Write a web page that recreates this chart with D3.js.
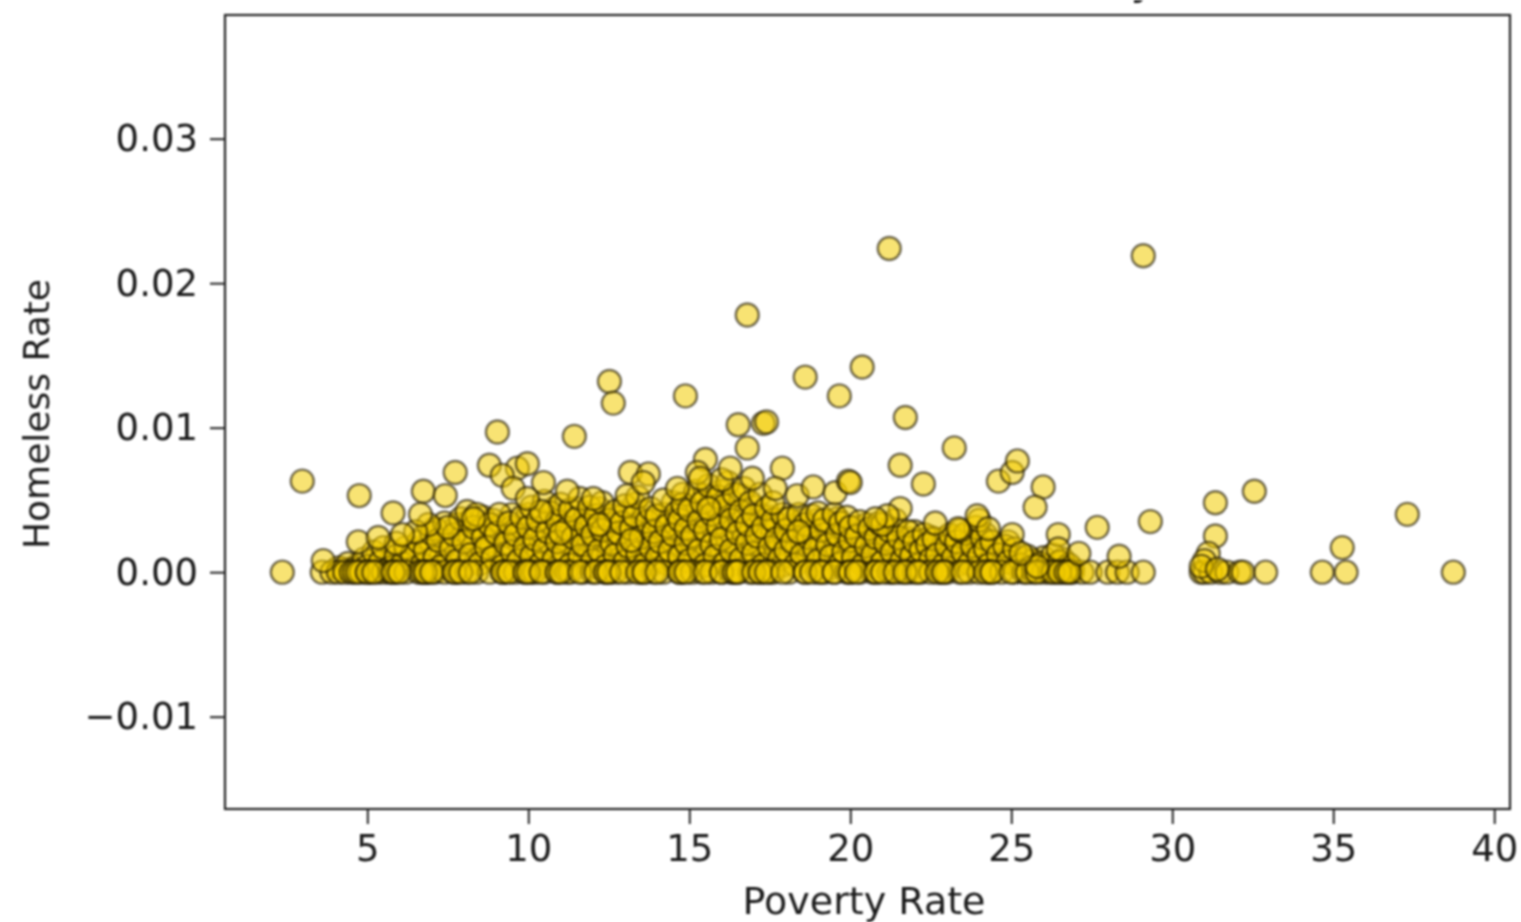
<!DOCTYPE html>
<html>
<head>
<meta charset="utf-8">
<script src="https://d3js.org/d3.v7.min.js"></script>
<style>
	html, body { margin: 0; padding: 0; background: #fff; overflow: hidden; }
	svg { display: block; filter: blur(1.1px); }
	text { font-family: "DejaVu Sans"; fill: #1a1a1a; }
</style>
</head>
<body>
<svg id="chart" width="1521" height="922"></svg>
<script>
// Tick labels
var xTicks = [5, 10, 15, 20, 25, 30, 35, 40];
var yTicks = [-0.01, 0, 0.01, 0.02, 0.03];

// Counties with no homeless reported, poverty rate only
var zeroRow = [2.36, 3.6, 3.9, 4.1, 4.3, 4.5, 4.6, 4.8, 5.0, 5.1, 5.3, 5.5, 5.7, 5.8, 5.9, 6.2, 6.6, 6.8, 6.8, 6.9, 7.1, 7.4, 7.7, 7.8, 8.1, 8.4,
	8.8, 9.2, 9.3, 9.6, 9.9, 10.1, 10.2, 10.5, 10.9, 11.2, 11.3, 11.7, 12.0, 12.4, 12.5, 12.7, 13.1, 13.5, 13.6, 13.9, 14.2, 14.7, 14.8, 15.1,
	15.4, 15.7, 16.0, 16.3, 16.4, 16.5, 16.9, 17.2, 17.3, 17.5, 17.6, 18.1, 18.6, 19.0, 19.2, 19.5, 19.9, 20.0, 20.3, 20.7, 20.8, 21.2, 21.3,
	21.6, 21.8, 22.0, 22.2, 22.5, 22.8, 22.9, 23.0, 23.4, 23.7, 24.0, 24.3, 24.4, 24.7, 25.1, 25.4, 25.7, 26.0, 26.2, 26.4, 26.6, 26.8, 26.9,
	27.2, 27.45, 28.0, 28.3, 28.6, 29.1, 30.9, 31.0, 31.2, 31.5, 31.7, 32.1, 32.2, 32.9, 34.66, 35.4, 38.73];

var zeroRowRepeats = [4.7, 5.0, 5.2, 5.8, 6.0, 6.7, 6.8, 7.0, 7.7, 7.9, 8.2, 9.2, 9.4, 9.9, 10.0, 10.4, 10.9, 11.0, 11.6, 12.1, 12.4, 12.5, 12.9,
	13.4, 13.6, 14.0, 14.7, 14.9, 15.5, 16.0, 16.4, 16.5, 17.0, 17.2, 17.4, 17.9, 18.6, 18.8, 19.1, 19.5, 20.0, 20.2, 20.8, 21.0, 21.4, 21.7,
	22.1, 22.7, 22.9, 23.5, 24.2, 24.4, 25.0, 25.5, 25.8, 26.3, 26.5, 26.7, 26.8];

// Outliers and edge of the cloud, [poverty, homeless]
var upperPoints = [[2.98,.0063],[4.75,.0053],[5.8,.0041],[6.74,.0056],[7.42,.0053],[7.73,.0069],[6.65,.0040],[6.09,.0026],[4.72,.0021],[5.34,.0024],
	[3.63,.0008],[9.04,.0097],[11.43,.0094],[8.79,.0074],[9.66,.0072],[9.97,.0075],[9.19,.0067],[10.47,.0062],[9.53,.0058],[9.97,.0051],[11.21,.0056],
	[12.02,.0051],[13.07,.0053],[13.17,.0069],[13.73,.0068],[13.57,.0062],[12.52,.0132],[12.64,.0117],[14.88,.0122],[16.52,.0102],[17.3,.0103],[17.4,.0104],
	[16.8,.0178],[16.8,.0086],[15.5,.0078],[16.27,.0072],[15.25,.0069],[15.34,.0065],[14.63,.0058],[16.96,.0065],[17.89,.0072],[17.67,.0058],[18.35,.0053],
	[18.85,.0059],[19.53,.0055],[19.94,.0063],[20.0,.0062],[18.6,.0135],[19.66,.0122],[20.37,.0142],[21.21,.0224],[21.71,.0107],[23.23,.0086],[21.55,.0074],
	[22.27,.0061],[24.6,.0063],[25.03,.0069],[25.19,.0077],[25.99,.0059],[25.74,.0045],[29.1,.0219],[27.67,.0031],[29.32,.0035],[31.34,.0048],[32.55,.0056],
	[31.34,.0025],[37.3,.004],[35.28,.0017],[21.55,.0044],[21.15,.0039],[20.78,.0037],[22.64,.0034],[23.94,.0039],[23.35,.003],[24.29,.003],[25.03,.0026],
	[26.46,.0026],[26.46,.0016],[25.8,.0004],[31.12,.0013],[31.0,.0008],[30.9,.0004],[31.4,.0002],[28.35,.0011],[27.1,.0013],[25.3,.0013]];

// Dense part of the cloud, read by band of poverty rate
var cloudLow = [[4.1,.0003],[4.4,.0006],[4.6,.0002],[4.9,.0009],[5.0,.0004],[5.2,.0014],[5.4,.0007],[5.5,.0017],[5.7,.0003],[5.9,.0011],[6.1,.0006],[6.2,.0017],
	[6.4,.0012],[6.6,.0021],[6.7,.0005],[6.8,.0015],[7.0,.0027],[7.1,.0010],[7.2,.0022],[7.3,.0004],[7.4,.0034],[7.6,.0016],[7.7,.0026],[7.8,.0008],[7.9,.0037],
	[8.0,.0021],[8.1,.0042],[8.2,.0012],[8.3,.0031],[8.4,.0040],[8.5,.0006],[8.6,.0024],[8.7,.0017],[8.8,.0033],[8.9,.0010],[9.0,.0027],[9.1,.0040],[9.2,.0004],
	[9.3,.0020],[9.4,.0034],[9.5,.0014],[9.6,.0026],[9.7,.0008],[9.8,.0038],[9.9,.0017],[7.5,.0031],[6.9,.0033],[8.3,.0037],[5.9,.0020],[6.5,.0028]];

var cloudMidA = [[10.0,.0031],[10.1,.0011],[10.1,.0045],[10.2,.0023],[10.3,.0036],[10.4,.0006],[10.5,.0049],[10.5,.0016],[10.6,.0028],[10.7,.0041],[10.8,.0009],
	[10.9,.0035],[10.9,.0021],[11.0,.0047],[11.1,.0014],[11.2,.0030],[11.3,.0043],[11.3,.0005],[11.4,.0024],[11.5,.0037],[11.6,.0011],[11.6,.0051],[11.7,.0019],
	[11.8,.0032],[11.9,.0045],[12.0,.0008],[12.0,.0026],[12.1,.0039],[12.2,.0015],[12.3,.0048],[12.3,.0029],[12.4,.0004],[12.5,.0036],[12.6,.0020],[12.7,.0042],
	[12.7,.0012],[12.8,.0027],[12.9,.0034],[13.0,.0007],[13.0,.0046],[13.1,.0018],[13.2,.0030],[13.3,.0039],[13.4,.0013],[13.4,.0052],[13.5,.0024],[13.6,.0005],
	[13.7,.0035],[13.8,.0017],[13.8,.0044],[13.9,.0028],[14.0,.0010],[14.0,.0039],[14.1,.0021],[14.2,.0050],[14.3,.0032],[14.3,.0006],[14.4,.0015],[14.5,.0026],
	[14.6,.0041],[14.7,.0011],[14.7,.0036],[14.8,.0054],[14.9,.0020],[14.9,.0030],[14.8,.0047],[11.0,.0027],[12.2,.0033],[13.2,.0022],[10.4,.0042]];

var cloudMidB = [[15.0,.0008],[15.0,.0043],[15.1,.0025],[15.2,.0056],[15.3,.0015],[15.3,.0035],[15.4,.0048],[15.5,.0005],[15.5,.0029],[15.6,.0060],[15.7,.0019],
	[15.7,.0040],[15.8,.0011],[15.9,.0052],[15.9,.0032],[16.0,.0023],[16.1,.0046],[16.1,.0006],[16.2,.0062],[16.3,.0015],[16.3,.0036],[16.4,.0054],[16.5,.0027],
	[16.6,.0042],[16.6,.0009],[16.7,.0058],[16.8,.0020],[16.8,.0033],[16.9,.0048],[17.0,.0013],[17.0,.0039],[17.1,.0025],[17.2,.0054],[17.3,.0005],[17.3,.0031],
	[17.4,.0044],[17.5,.0017],[17.6,.0036],[17.7,.0023],[17.8,.0009],[17.9,.0040],[18.0,.0015],[18.0,.0029],[18.1,.0037],[18.2,.0021],[18.3,.0005],[18.4,.0040],
	[18.5,.0012],[18.6,.0033],[18.7,.0024],[18.8,.0039],[18.9,.0016],[19.0,.0008],[19.0,.0041],[19.1,.0029],[19.2,.0036],[19.3,.0019],[19.4,.0011],[19.5,.0040],
	[19.6,.0026],[19.7,.0034],[19.7,.0006],[19.8,.0014],[19.9,.0038],[20.0,.0022],[20.0,.0031],[16.0,.0064],[15.6,.0044],[17.6,.0048],[18.4,.0028]];

var cloudHigh = [[20.1,.0010],[20.2,.0025],[20.3,.0035],[20.4,.0005],[20.5,.0018],[20.6,.0030],[20.7,.0012],[20.8,.0024],[20.9,.0034],[21.0,.0007],[21.1,.0020],
	[21.2,.0029],[21.3,.0014],[21.4,.0036],[21.5,.0024],[21.6,.0008],[21.7,.0017],[21.8,.0028],[21.9,.0011],[22.0,.0021],[22.1,.0005],[22.2,.0015],[22.3,.0026],
	[22.4,.0019],[22.5,.0009],[22.6,.0023],[22.7,.0012],[22.9,.0005],[23.0,.0018],[23.1,.0026],[23.2,.0010],[23.3,.0021],[23.5,.0014],[23.6,.0027],[23.7,.0006],
	[23.8,.0018],[23.9,.0031],[24.0,.0011],[24.1,.0024],[24.2,.0016],[24.3,.0005],[24.4,.0021],[24.6,.0012],[24.8,.0018],[24.9,.0007],[25.1,.0016],[25.3,.0005],
	[25.5,.0011],[25.6,.0003],[25.9,.0006],[26.1,.0004],[26.3,.0012],[26.5,.0007],[26.7,.0003],[26.8,.0005],[21.0,.0033],[23.4,.0029],[24.0,.0036]];

// second pass over the cloud, the thick middle where marks pile up
var pileLow = [[4.3,.0002],[4.7,.0005],[5.1,.0002],[5.3,.0010],[5.6,.0005],[5.8,.0014],[6.0,.0003],[6.3,.0009],[6.5,.0016],[6.7,.0024],[6.9,.0008],[7.0,.0017],
	[7.2,.0029],[7.3,.0012],[7.5,.0006],[7.6,.0022],[7.8,.0033],[7.9,.0014],[8.0,.0028],[8.1,.0005],[8.2,.0036],[8.3,.0019],[8.4,.0009],[8.5,.0029],[8.6,.0038],
	[8.7,.0012],[8.8,.0022],[8.9,.0030],[9.0,.0007],[9.1,.0016],[9.2,.0033],[9.3,.0011],[9.4,.0025],[9.5,.0040],[9.6,.0005],[9.7,.0021],[9.8,.0030],[9.9,.0012],
	[8.2,.0024],[7.4,.0019],[8.9,.0036],[9.5,.0031],[6.2,.0012],[7.1,.0030],[8.6,.0015]];

var pileMidA = [[10.0,.0018],[10.0,.0040],[10.1,.0026],[10.2,.0008],[10.3,.0014],[10.3,.0030],[10.4,.0021],[10.6,.0004],[10.6,.0035],[10.7,.0018],[10.8,.0044],
	[10.8,.0026],[10.9,.0012],[11.0,.0006],[11.1,.0032],[11.1,.0039],[11.2,.0020],[11.3,.0027],[11.4,.0010],[11.5,.0016],[11.5,.0044],[11.6,.0033],[11.7,.0007],
	[11.7,.0027],[11.8,.0040],[11.9,.0013],[11.9,.0022],[12.0,.0035],[12.1,.0004],[12.1,.0018],[12.2,.0044],[12.3,.0010],[12.4,.0024],[12.4,.0031],[12.5,.0014],
	[12.6,.0039],[12.6,.0007],[12.7,.0034],[12.8,.0018],[12.9,.0010],[12.9,.0025],[13.0,.0040],[13.1,.0031],[13.1,.0004],[13.2,.0014],[13.3,.0026],[13.3,.0047],
	[13.4,.0019],[13.5,.0034],[13.5,.0009],[13.6,.0042],[13.7,.0013],[13.7,.0027],[13.8,.0005],[13.9,.0022],[13.9,.0036],[14.0,.0017],[14.1,.0030],[14.1,.0008],
	[14.2,.0040],[14.3,.0024],[14.4,.0036],[14.4,.0011],[14.5,.0019],[14.5,.0048],[14.6,.0005],[14.6,.0032],[14.7,.0024],[14.8,.0015],[14.8,.0041],[14.9,.0008]];

var pileMidB = [[15.0,.0016],[15.0,.0031],[15.1,.0050],[15.2,.0010],[15.2,.0040],[15.3,.0024],[15.4,.0004],[15.4,.0034],[15.5,.0053],[15.5,.0014],[15.6,.0025],
	[15.7,.0049],[15.8,.0033],[15.8,.0007],[15.9,.0016],[15.9,.0042],[16.0,.0056],[16.1,.0027],[16.1,.0037],[16.2,.0011],[16.2,.0020],[16.3,.0049],[16.4,.0030],
	[16.4,.0006],[16.5,.0042],[16.5,.0016],[16.6,.0053],[16.7,.0024],[16.7,.0036],[16.8,.0012],[16.9,.0030],[16.9,.0004],[17.0,.0045],[17.0,.0020],[17.1,.0035],
	[17.1,.0010],[17.2,.0028],[17.2,.0040],[17.3,.0016],[17.4,.0024],[17.5,.0038],[17.5,.0007],[17.6,.0028],[17.7,.0014],[17.7,.0034],[17.8,.0019],[17.9,.0027],
	[17.9,.0005],[18.0,.0037],[18.1,.0012],[18.1,.0024],[18.2,.0032],[18.3,.0016],[18.4,.0008],[18.5,.0036],[18.5,.0021],[18.6,.0028],[18.7,.0013],[18.8,.0032],
	[18.9,.0005],[18.9,.0024],[19.0,.0036],[19.1,.0018],[19.2,.0010],[19.3,.0028],[19.4,.0034],[19.5,.0016],[19.6,.0005],[19.6,.0037],[19.7,.0021],[19.8,.0028],[19.9,.0010],[19.9,.0018]];

var pileHigh = [[20.1,.0017],[20.2,.0031],[20.3,.0008],[20.4,.0023],[20.5,.0033],[20.6,.0013],[20.7,.0004],[20.8,.0030],[20.9,.0018],[21.0,.0012],[21.1,.0026],
	[21.2,.0006],[21.3,.0022],[21.4,.0030],[21.5,.0012],[21.6,.0019],[21.7,.0005],[21.8,.0023],[21.9,.0016],[22.0,.0028],[22.1,.0012],[22.2,.0022],[22.3,.0007],
	[22.4,.0014],[22.5,.0024],[22.6,.0005],[22.7,.0019],[22.8,.0011],[22.9,.0023],[23.0,.0008],[23.1,.0014],[23.2,.0024],[23.3,.0005],[23.4,.0018],[23.5,.0025],
	[23.6,.0010],[23.7,.0021],[23.8,.0012],[23.9,.0004],[24.0,.0018],[24.1,.0008],[24.2,.0026],[24.4,.0012],[24.5,.0005],[24.7,.0016],[24.9,.0021],[25.0,.0010],
	[25.2,.0004],[25.4,.0009],[25.7,.0008],[26.0,.0010],[26.2,.0003],[26.4,.0005],[26.6,.0009],[26.9,.0002],[26.0,.0002]];

var width = 1521;
var height = 922;
var left = 225, right = 1510, top_ = 15, bottom = 809;

var x = d3.scaleLinear().domain([0.58, 40.49]).range([left, right]);
var y = d3.scaleLinear().domain([-0.01639, 0.03856]).range([bottom, top_]);

var svg = d3.select("#chart");

var zeroPoints = zeroRow.concat(zeroRowRepeats).map(function(p) { return [p, 0]; });
var points = pileLow.concat(pileMidA, pileMidB, pileHigh, cloudLow, cloudMidA, cloudMidB, cloudHigh, zeroPoints, upperPoints);

svg.append("g").selectAll("circle")
	.data(points)
	.enter().append("circle")
	.attr("cx", function(d) { return x(d[0]); })
	.attr("cy", function(d) { return y(d[1]); })
	.attr("r", 11.5)
	.attr("fill", "#f2cc00")
	.attr("fill-opacity", 0.55)
	.attr("stroke", "#1a1400")
	.attr("stroke-opacity", 0.6)
	.attr("stroke-width", 2.4);

// Frame
svg.append("rect")
	.attr("x", left)
	.attr("y", top_)
	.attr("width", right - left)
	.attr("height", bottom - top_)
	.attr("fill", "none")
	.attr("stroke", "#222")
	.attr("stroke-width", 2.2);

var xAxis = svg.append("g").attr("transform", "translate(0," + bottom + ")")
	.call(d3.axisBottom(x).tickValues(xTicks).tickSize(15).tickPadding(11).tickFormat(d3.format("d")));
var yAxis = svg.append("g").attr("transform", "translate(" + left + ",0)")
	.call(d3.axisLeft(y).tickValues(yTicks).tickSize(15).tickPadding(12).tickFormat(function(d) {
		return d3.format(".2f")(d).replace("-", "\u2212");
	}));

[xAxis, yAxis].forEach(function(a) {
	a.select(".domain").remove();
	a.selectAll(".tick line").attr("stroke", "#222").attr("stroke-width", 2);
	a.selectAll(".tick text").attr("font-size", 37).attr("font-family", "DejaVu Sans").attr("fill", "#1a1a1a");
});

svg.append("text")
	.attr("x", 864)
	.attr("y", 914)
	.attr("text-anchor", "middle")
	.attr("font-size", 38)
	.text("Poverty Rate");

svg.append("text")
	.attr("transform", "translate(49,414) rotate(-90)")
	.attr("text-anchor", "middle")
	.attr("font-size", 36)
	.text("Homeless Rate");

// Title is cut off by the top of the picture, just the descender shows
svg.append("text")
	.attr("x", 870)
	.attr("y", -6)
	.attr("text-anchor", "middle")
	.attr("font-size", 44)
	.text("Homelessness Rate vs. Poverty Rate");
</script>
</body>
</html>
